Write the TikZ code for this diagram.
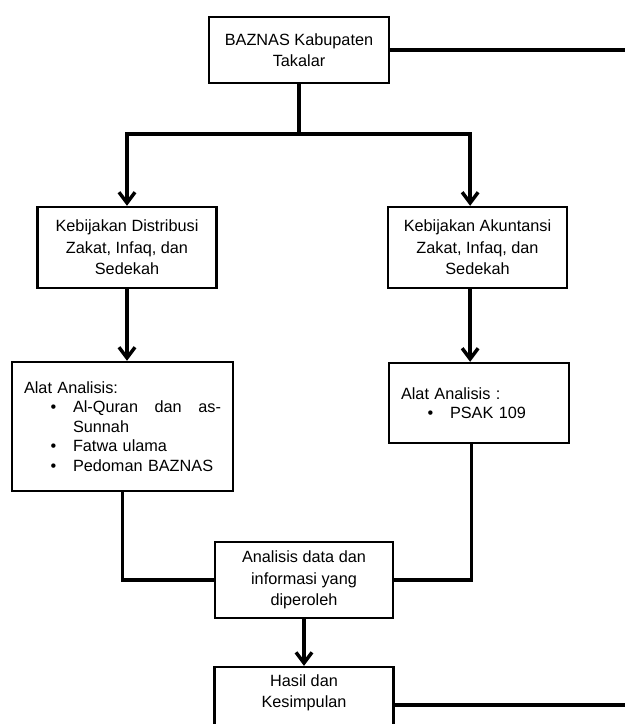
\documentclass[tikz,border=0pt]{standalone}
\usepackage{fontspec}
\setmainfont{Liberation Sans}
\usepackage{enumitem}
\usetikzlibrary{positioning,arrows.meta}

\setlist[itemize]{leftmargin=36.75pt, labelsep=12.5pt, labelwidth=0pt, itemsep=0pt, topsep=0pt, parsep=0pt, partopsep=0pt}

\tikzset{
  box/.style={draw, line width=1.8pt, align=center, inner sep=0pt, font=\fontsize{12.2}{16}\selectfont},
  listbox/.style={draw, line width=1.8pt, align=left, inner xsep=9pt, inner ysep=0pt, font=\fontsize{12.2}{14.6}\selectfont},
  link/.style={line width=2.6pt},
}

\begin{document}
\begin{tikzpicture}[x=0.75pt, y=-0.75pt, >={Straight Barb[length=8pt,width=12pt]}]
\useasboundingbox (0,0) rectangle (625,724);
\clip (0,0) rectangle (625,724);
\coordinate (edge) at (625,0);
\node[box, minimum width=135pt, minimum height=49.5pt] (baznas) at (299,50) {BAZNAS Kabupaten\\Takalar};
\node[box, minimum width=134.25pt, minimum height=60.75pt] (distribusi) at (127,247.5) {Kebijakan Distribusi\\Zakat, Infaq, dan\\Sedekah};
\node[box, minimum width=134.25pt, minimum height=60.75pt] (akuntansi) at (477.5,247.5) {Kebijakan Akuntansi\\Zakat, Infaq, dan\\Sedekah};
\node[listbox, text width=147.75pt, minimum height=96.75pt] (alatkiri) at (122.5,426.5) {Alat Analisis:
  \begin{itemize}
    \item Al-Quran\hfill dan\hfill as-\\Sunnah
    \item Fatwa ulama
    \item Pedoman BAZNAS
  \end{itemize}};
\node[listbox, text width=117pt, minimum height=60pt] (alatkanan) at (479,403) {Alat Analisis :
  \begin{itemize}
    \item PSAK 109
  \end{itemize}};
\node[box, minimum width=133.5pt, minimum height=57pt] (analisis) at (304,580) {Analisis data dan\\informasi yang\\diperoleh};
\node[box, minimum width=134.25pt, minimum height=57pt, below=35pt of analisis] (hasil) {Hasil dan\\Kesimpulan\\\strut};
\coordinate (split) at (299,134);
\draw[link] (baznas.south) -- (split);
\draw[link] (baznas.east) -- (baznas.east -| edge);
\draw[link, ->] (split) -| (distribusi.north);
\draw[link, ->] (split) -| (akuntansi.100);
\draw[link, ->] (distribusi.south) -- (distribusi.south |- alatkiri.north);
\draw[link, ->] (akuntansi.-100) -- (akuntansi.-100 |- alatkanan.north);
\draw[link] (alatkiri.south) |- (analisis.west);
\draw[link] (alatkanan.-100) |- (analisis.east);
\draw[link, ->] (analisis.south) -- (analisis.south |- hasil.north);
\draw[link] (hasil.east) -- (hasil.east -| edge);
\end{tikzpicture}
\end{document}
